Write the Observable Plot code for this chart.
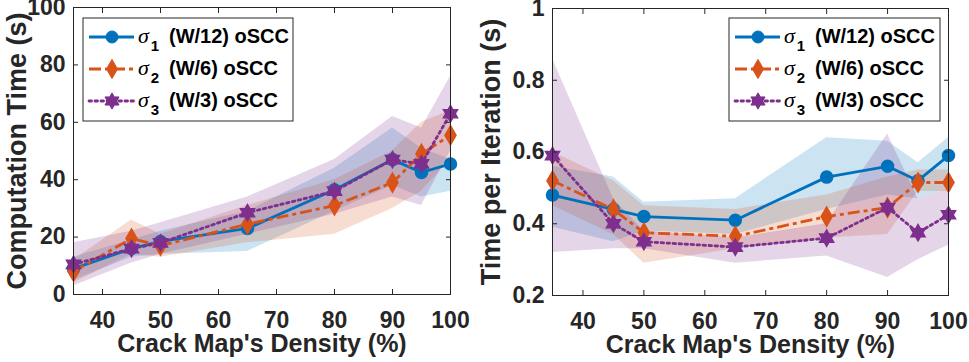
<!DOCTYPE html>
<html><head><meta charset="utf-8">
<script src="https://cdn.jsdelivr.net/npm/d3@7"></script>
<script src="https://cdn.jsdelivr.net/npm/@observablehq/plot@0.6"></script>
<style>
body{margin:0;background:#fff;}
#wrap{position:relative;width:969px;height:362px;overflow:hidden;}
.panel{position:absolute;top:0;}
.panel svg text{font-weight:bold;}
.panel g[aria-label="x-axis tick label"] text,
.panel g[aria-label="y-axis tick label"] text{font-size:23px;}
.panel g.xlab text{font-size:25px;}
.panel g.ylab text{font-size:27px;}
</style></head><body><div id="wrap"></div>
<script>
// ---------- data ----------
const density = [35, 45, 50, 65, 80, 90, 95, 100];
const xTicks = [40, 50, 60, 70, 80, 90, 100];
const seriesNames = ["σ1 (W/12) oSCC", "σ2 (W/6) oSCC", "σ3 (W/3) oSCC"];
const seriesSub = ["1", "2", "3"];
const seriesText = ["(W/12) oSCC", "(W/6) oSCC", "(W/3) oSCC"];

// Left panel: computation time (s)
const compTimeS1 = [9, 16, 18.5, 23, 36.5, 47, 42.5, 45.5];
const compTimeS2 = [8, 19.5, 17, 24.5, 31, 39, 49, 55.5];
const compTimeS3 = [10.5, 16, 18, 28.5, 36, 47, 45.5, 63];
const compLoS1 = [5, 13, 14, 15, 29, 38, 34, 36];
const compHiS1 = [13, 19, 22, 29, 44, 58, 51, 47];
const compLoS2 = [4, 14, 13, 18, 21, 30, 36, 47];
const compHiS2 = [12, 26, 21, 31, 40, 50, 60, 64];
const compLoS3 = [3, 11, 14, 21, 28, 34, 31, 50];
const compHiS3 = [18, 22, 25, 34, 47, 62, 58, 76];
const compTicks = [0, 20, 40, 60, 80, 100];

// Right panel: time per iteration (s)
const iterTimeS1 = [0.48, 0.44, 0.42, 0.41, 0.53, 0.56, 0.52, 0.59];
const iterTimeS2 = [0.52, 0.44, 0.375, 0.365, 0.42, 0.445, 0.515, 0.515];
const iterTimeS3 = [0.59, 0.40, 0.35, 0.335, 0.36, 0.445, 0.375, 0.425];
const iterLoS1 = [0.39, 0.35, 0.38, 0.37, 0.44, 0.48, 0.47, 0.50];
const iterHiS1 = [0.56, 0.53, 0.46, 0.47, 0.64, 0.63, 0.57, 0.64];
const iterLoS2 = [0.45, 0.37, 0.29, 0.33, 0.36, 0.37, 0.49, 0.49];
const iterHiS2 = [0.60, 0.52, 0.45, 0.44, 0.48, 0.53, 0.55, 0.55];
const iterLoS3 = [0.32, 0.33, 0.33, 0.29, 0.31, 0.25, 0.30, 0.34];
const iterHiS3 = [0.86, 0.47, 0.38, 0.36, 0.40, 0.65, 0.47, 0.50];
const iterTicks = [0.2, 0.4, 0.6, 0.8, 1];

// ---------- styles ----------
const colors = ["#0072BD", "#D95319", "#7E2F8E"];
const dashes = [null, "12,4,4,4", "2.5,3.5"];
const hexagram = {
  draw(ctx, size) {
    const R = Math.sqrt(size / Math.PI) * 1.4, r = R / Math.sqrt(3);
    for (let i = 0; i < 12; i++) {
      const a = i * Math.PI / 6 - Math.PI / 2, rr = i % 2 ? r : R;
      const x = rr * Math.cos(a), y = rr * Math.sin(a);
      if (i) ctx.lineTo(x, y); else ctx.moveTo(x, y);
    }
    ctx.closePath();
  }
};
const symbols = ["circle", "diamond", hexagram];
const d3Symbols = [d3.symbolCircle, d3.symbolDiamond, hexagram];
const symR = [6, 5.8, 5.8];
const FONT = "'Liberation Sans', Arial, Helvetica, sans-serif";

function rowsFor(vals, lo, hi) {
  return density.map((x, i) => ({x, y: vals[i], lo: lo[i], hi: hi[i]}));
}

function makePanel(cfg) {
  const series = cfg.series.map(s => rowsFor(...s));
  const marks = [];
  series.forEach((rows, k) => {
    marks.push(Plot.areaY(rows, {x: "x", y1: "lo", y2: "hi", fill: colors[k], fillOpacity: 0.2}));
  });
  series.forEach((rows, k) => {
    marks.push(Plot.line(rows, {x: "x", y: "y", stroke: colors[k], strokeWidth: 2.8,
      strokeDasharray: dashes[k], strokeLinecap: k === 2 ? "round" : "butt"}));
    marks.push(Plot.dot(rows, {x: "x", y: "y", symbol: () => symbols[k], fill: colors[k], stroke: colors[k], r: symR[k]}));
  });
  marks.push(Plot.frame({stroke: "#262626", strokeWidth: 1}));
  marks.push(Plot.axisX({anchor: "bottom", ticks: xTicks, tickSize: -5, tickPadding: 22, label: null, stroke: "#262626", fill: "#262626"}));
  marks.push(Plot.axisX({anchor: "top", ticks: xTicks, tickSize: -5, tickFormat: () => "", label: null, stroke: "#262626"}));
  marks.push(Plot.axisY({anchor: "left", ticks: cfg.yTicks, tickSize: -5, tickPadding: 13, label: null, tickFormat: cfg.tickFormat, stroke: "#262626", fill: "#262626"}));
  marks.push(Plot.axisY({anchor: "right", ticks: cfg.yTicks, tickSize: -5, tickFormat: () => "", label: null, stroke: "#262626"}));
  marks.push(Plot.text([cfg.xLabel], {frameAnchor: "bottom", lineAnchor: "middle", textAnchor: "middle", dy: 49, fill: "#262626", className: "xlab"}));
  marks.push(Plot.text([cfg.yLabel], {frameAnchor: "left", rotate: -90, textAnchor: "middle", lineAnchor: "middle", dx: cfg.yLabelDx, fill: "#262626", className: "ylab"}));

  const svg = Plot.plot({
    width: cfg.width, height: 362,
    marginLeft: cfg.ml, marginRight: cfg.mr, marginTop: cfg.mt, marginBottom: cfg.mb,
    style: {fontFamily: FONT, color: "#262626", background: "transparent", overflow: "visible"},
    x: {domain: [35, 100]},
    y: {domain: cfg.yDomain},
    marks
  });

  // legend box (inside the axes, like the original)
  const L = cfg.legend;
  const g = d3.select(svg).append("g").attr("font-family", FONT).attr("text-anchor", "start");
  g.append("rect").attr("x", L.x).attr("y", L.y).attr("width", L.w).attr("height", L.h)
    .attr("fill", "#fff").attr("stroke", "#262626").attr("stroke-width", 1);
  seriesNames.forEach((name, k) => {
    const cy = L.y + 19 + k * 32;
    g.append("line").attr("x1", L.x + 6).attr("x2", L.x + 51).attr("y1", cy).attr("y2", cy)
      .attr("stroke", colors[k]).attr("stroke-width", 2.8)
      .attr("stroke-dasharray", dashes[k]).attr("stroke-linecap", k === 2 ? "round" : "butt");
    const sym = d3.symbol(d3Symbols[k], Math.PI * symR[k] * symR[k]);
    g.append("path").attr("d", sym()).attr("transform", `translate(${L.x + 29},${cy})`)
      .attr("fill", colors[k]).attr("stroke", colors[k]);
    const t = g.append("text").attr("x", L.x + 55).attr("y", cy + 6).attr("fill", "#000");
    t.append("tspan").text("σ").attr("font-family", "'Liberation Serif', 'Times New Roman', serif")
      .attr("font-style", "italic").style("font-weight", "normal").attr("font-size", 22);
    t.append("tspan").text(seriesSub[k]).attr("font-size", 15).attr("dy", 8).attr("dx", 2);
    t.append("tspan").text(seriesText[k]).attr("font-size", 20).attr("dy", -8).attr("x", L.x + 86);
    t.append("title").text(name);
  });
  return svg;
}

const left = makePanel({
  width: 480, ml: 73, mr: 30, mt: 7, mb: 68,
  yDomain: [0, 100], yTicks: compTicks, tickFormat: d => String(d),
  xLabel: "Crack Map's Density (%)", yLabel: "Computation Time (s)", yLabelDx: -56,
  series: [[compTimeS1, compLoS1, compHiS1], [compTimeS2, compLoS2, compHiS2], [compTimeS3, compLoS3, compHiS3]],
  legend: {x: 83, y: 18, w: 210, h: 103}
});
const right = makePanel({
  width: 489, ml: 72, mr: 21, mt: 8, mb: 67,
  yDomain: [0.2, 1], yTicks: iterTicks, tickFormat: d => d === 1 ? "1" : d3.format(".1f")(d),
  xLabel: "Crack Map's Density (%)", yLabel: "Time per Iteration (s)", yLabelDx: -61,
  series: [[iterTimeS1, iterLoS1, iterHiS1], [iterTimeS2, iterLoS2, iterHiS2], [iterTimeS3, iterLoS3, iterHiS3]],
  legend: {x: 249, y: 18, w: 211, h: 103}
});
const wrap = document.getElementById("wrap");
const d1 = document.createElement("div"); d1.className = "panel"; d1.style.left = "0px"; d1.appendChild(left);
const d2 = document.createElement("div"); d2.className = "panel"; d2.style.left = "480px"; d2.appendChild(right);
wrap.appendChild(d1); wrap.appendChild(d2);
</script>
</body></html>
